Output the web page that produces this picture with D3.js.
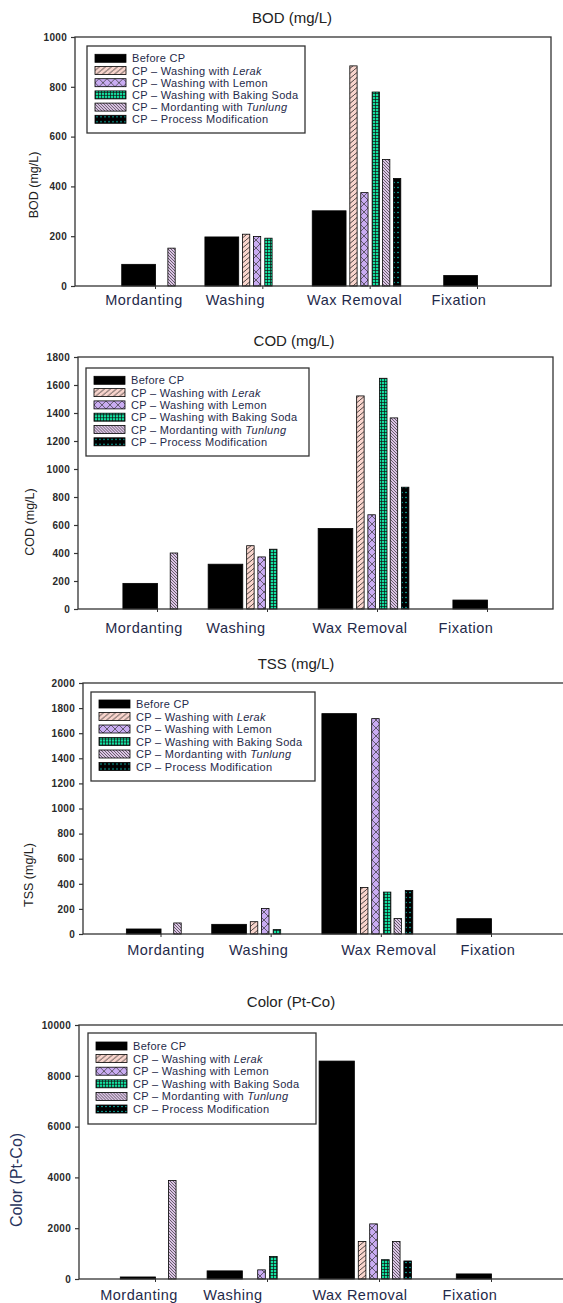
<!DOCTYPE html>
<html lang="en">
<head>
<meta charset="UTF-8">
<title>BOD, COD, TSS and Color before and after CP</title>
<script src="https://d3js.org/d3.v7.min.js"></script>
<style>
  body { margin: 0; background: #fff; }
  svg text { font-family: "Liberation Sans", Arial, sans-serif; }
</style>
</head>
<body>
<script>
// categories and series
const categories = ["Mordanting", "Washing", "Wax Removal", "Fixation"];
const legendLabels = [
  ["Before CP", ""],
  ["CP \u2013 Washing with ", "Lerak"],
  ["CP \u2013 Washing with Lemon", ""],
  ["CP \u2013 Washing with Baking Soda", ""],
  ["CP \u2013 Mordanting with ", "Tunlung"],
  ["CP \u2013 Process Modification", ""]
];

// values, one row per series (same order as legendLabels), null = no bar
const bodValues = [
  [87, 197, 302, 42],
  [null, 208, 884, null],
  [null, 199, 375, null],
  [null, 192, 779, null],
  [152, null, 508, null],
  [null, null, 432, null]
];
const codValues = [
  [183, 320, 575, 64],
  [null, 452, 1522, null],
  [null, 372, 673, null],
  [null, 427, 1648, null],
  [400, null, 1365, null],
  [null, null, 870, null]
];
const tssValues = [
  [40, 77, 1756, 122],
  [null, 98, 370, null],
  [null, 204, 1716, null],
  [null, 35, 334, null],
  [88, null, 123, null],
  [null, null, 346, null]
];
const colorValues = [
  [80, 320, 8580, 200],
  [null, null, 1480, null],
  [null, 360, 2170, null],
  [null, 890, 760, null],
  [3880, null, 1480, null],
  [null, null, 710, null]
];

// y tick labels
const bodTicks = [0, 200, 400, 600, 800, 1000];
const codTicks = [0, 200, 400, 600, 800, 1000, 1200, 1400, 1600, 1800];
const tssTicks = [0, 200, 400, 600, 800, 1000, 1200, 1400, 1600, 1800, 2000];
const colorTicks = [0, 2000, 4000, 6000, 8000, 10000];

const W = 563, H = 1303;
const textCol = "#1f2a4a";

const svg = d3.select("body").append("svg")
  .attr("width", W).attr("height", H);
svg.append("rect").attr("width", W).attr("height", H).attr("fill", "#fff");

// fill patterns
const defs = svg.append("defs");
function pat(id, w, h, bg, draw) {
  const p = defs.append("pattern").attr("id", id)
    .attr("patternUnits", "userSpaceOnUse").attr("width", w).attr("height", h);
  p.append("rect").attr("width", w).attr("height", h).attr("fill", bg);
  draw(p);
}
pat("pLerak", 6, 5, "#f8d4cc", p => p.append("path")
  .attr("d", "M0,5L6,0M-1,1L1,-1M5,6L7,4").attr("stroke", "#222").attr("stroke-width", 0.8));
pat("pLemon", 8, 8, "#c9acf2", p => p.append("path")
  .attr("d", "M0,0L8,8M8,0L0,8").attr("stroke", "#333").attr("stroke-width", 0.7));
pat("pSoda", 3, 3, "#12e0a0", p => p.append("path")
  .attr("d", "M0,0.4H3M0.4,0V3").attr("stroke", "#111").attr("stroke-width", 0.8));
pat("pTunlung", 3, 3, "#dcc3e6", p => p.append("path")
  .attr("d", "M0,0L3,3M-1,2L1,4M2,-1L4,1").attr("stroke", "#333").attr("stroke-width", 0.7));
pat("pProc", 4, 5, "#000", p => p.append("circle")
  .attr("cx", 2).attr("cy", 2.5).attr("r", 0.75).attr("fill", "#10d8c8"));

const fills = ["#000", "url(#pLerak)", "url(#pLemon)", "url(#pSoda)", "url(#pTunlung)", "url(#pProc)"];

// bar placement inside a category, in units of category spacing
const beforeStart = [-0.31, -0.535, -0.535, -0.31];
const beforeWidth = 0.315;
const cpStart = [-0.185, -0.083, 0.023, 0.12, 0.222];
const cpWidth = 0.068;

const panels = [
  { title: "BOD (mg/L)", ylab: "BOD (mg/L)", values: bodValues, ticks: bodTicks,
    left: 75, right: 551, top: 37, bottom: 286, x1: 155, x4: 477, titleX: 292, titleY: 17,
    catY: 300, catShift: [-11, -27, -15, -18],
    legend: { x: 87, y: 46, w: 218, h: 87, first: 12.3, step: 12.2 },
    ylabX: 34, ylabY: 185, ylabSize: 12.5, ylabCol: "#222" },
  { title: "COD (mg/L)", ylab: "COD (mg/L)", values: codValues, ticks: codTicks,
    left: 78, right: 553, top: 357, bottom: 609, x1: 157, x4: 487, titleX: 294, titleY: 340,
    catY: 628, catShift: [-13, -31, -17, -21],
    legend: { x: 86, y: 368, w: 223, h: 88, first: 12.3, step: 12.3 },
    ylabX: 30, ylabY: 522, ylabSize: 12.5, ylabCol: "#222" },
  { title: "TSS (mg/L)", ylab: "TSS (mg/L)", values: tssValues, ticks: tssTicks,
    left: 83, right: 575, top: 683, bottom: 934, x1: 160.5, x4: 491, titleX: 296, titleY: 663,
    catY: 950, catShift: [5.5, -12, 8, -3],
    legend: { x: 91, y: 692, w: 224, h: 89, first: 12, step: 12.5 },
    ylabX: 29, ylabY: 875, ylabSize: 12.5, ylabCol: "#222" },
  { title: "Color (Pt-Co)", ylab: "Color (Pt-Co)", values: colorValues, ticks: colorTicks,
    left: 79, right: 575, top: 1025, bottom: 1279, x1: 155, x4: 491, titleX: 291, titleY: 1001,
    catY: 1295, catShift: [-16, -34, -19, -21],
    legend: { x: 88, y: 1033, w: 228, h: 91, first: 13, step: 12.6 },
    ylabX: 16, ylabY: 1180, ylabSize: 16, ylabCol: "#27335c" }
];

panels.forEach(p => {
  const g = svg.append("g");
  const y = d3.scaleLinear().domain([0, d3.max(p.ticks)]).range([p.bottom, p.top]);
  const x = d3.scaleLinear().domain([1, 4]).range([p.x1, p.x4]);

  // title
  g.append("text").attr("x", p.titleX).attr("y", p.titleY)
    .attr("text-anchor", "middle").attr("dominant-baseline", "central")
    .attr("font-size", 15).attr("fill", "#222").text(p.title);

  // bars
  p.values.forEach((row, si) => {
    const data = row.map((v, ci) => ({ v, ci })).filter(d => d.v != null);
    g.selectAll(null).data(data).enter().append("rect")
      .attr("x", d => x(d.ci + 1 + (si === 0 ? beforeStart[d.ci] : cpStart[si - 1])))
      .attr("width", d => {
        const a = d.ci + 1 + (si === 0 ? beforeStart[d.ci] : cpStart[si - 1]);
        return x(a + (si === 0 ? beforeWidth : cpWidth)) - x(a);
      })
      .attr("y", d => y(d.v))
      .attr("height", d => y(0) - y(d.v))
      .attr("fill", fills[si])
      .attr("stroke", "#000").attr("stroke-width", 0.8);
  });

  // frame
  g.append("rect").attr("x", p.left).attr("y", p.top)
    .attr("width", p.right - p.left).attr("height", p.bottom - p.top)
    .attr("fill", "none").attr("stroke", "#333").attr("stroke-width", 1.3);

  // y axis
  const ya = g.append("g").attr("transform", `translate(${p.left},0)`)
    .call(d3.axisLeft(y).tickValues(p.ticks).tickSize(4).tickPadding(4)
      .tickFormat(d3.format("d")));
  ya.select(".domain").remove();
  ya.selectAll("line").attr("stroke", "#333").attr("stroke-width", 1.2);
  ya.selectAll("text").attr("font-size", 10).attr("font-weight", "bold")
    .attr("letter-spacing", 0.3)
    .attr("fill", "#2a2a2a").style("font-family", "'Liberation Sans', Arial, sans-serif");

  // x ticks
  const xa = g.append("g").attr("transform", `translate(0,${p.bottom})`)
    .call(d3.axisBottom(x).tickValues([1, 2, 3, 4]).tickSize(3).tickFormat(""));
  xa.select(".domain").remove();
  xa.selectAll("line").attr("stroke", "#333");

  // category labels
  g.selectAll(null).data(categories).enter().append("text")
    .attr("x", (d, i) => x(i + 1) + p.catShift[i])
    .attr("y", p.catY)
    .attr("text-anchor", "middle").attr("dominant-baseline", "central")
    .attr("font-size", 14.5).attr("letter-spacing", 0.5)
    .attr("fill", textCol).text(d => d);

  // y label
  g.append("text")
    .attr("transform", `translate(${p.ylabX},${p.ylabY}) rotate(-90)`)
    .attr("text-anchor", "middle").attr("dominant-baseline", "central")
    .attr("font-size", p.ylabSize).attr("fill", p.ylabCol).text(p.ylab);

  // legend
  const L = p.legend;
  const lg = g.append("g").attr("transform", `translate(${L.x},${L.y})`);
  lg.append("rect").attr("width", L.w).attr("height", L.h)
    .attr("fill", "#fff").attr("stroke", "#333").attr("stroke-width", 1.3);
  const row = lg.selectAll(null).data(legendLabels).enter().append("g")
    .attr("transform", (d, i) => `translate(8,${L.first + i * L.step})`);
  row.append("rect").attr("x", 0).attr("y", -4).attr("width", 31).attr("height", 8)
    .attr("fill", (d, i) => fills[i]).attr("stroke", "#000").attr("stroke-width", 0.8);
  const tx = row.append("text").attr("x", 37).attr("y", 0)
    .attr("dominant-baseline", "central").attr("font-size", 11)
    .attr("letter-spacing", 0.3).attr("fill", textCol);
  tx.append("tspan").text(d => d[0]);
  tx.append("tspan").attr("font-style", "italic").text(d => d[1]);
});
</script>
</body>
</html>
